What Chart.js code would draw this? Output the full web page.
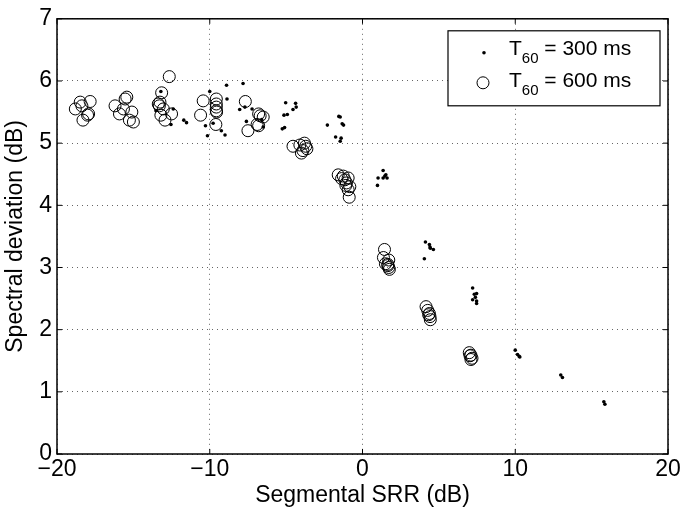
<!DOCTYPE html>
<html>
<head>
<meta charset="utf-8">
<script src="https://cdn.jsdelivr.net/npm/chart.js@4/dist/chart.umd.min.js"></script>
<style>
  html, body { margin: 0; padding: 0; background: #fff; }
</style>
</head>
<body>
<canvas id="c" width="685" height="512"></canvas>
<script>
// T60 = 300 ms (dots)
var t300X = [-13.2, -13.52, -12.39, -12.54, -11.7, -11.52, -10.0, -10.28, -10.15, -9.78, -9.24,
  -8.9, -8.87, -7.82, -8.04, -7.7, -7.23, -7.6, -9.0, -6.5, -6.6,
  -5.03, -4.38, -4.34, -4.55, -5.14, -4.92, -5.25, -5.1,
  -2.3, -1.55, -1.46, -1.33, -1.24, -1.76, -1.4, -1.46,
  1.35, 1.53, 1.46, 1.61, 1.02, 0.98, 1.35,
  4.12, 4.38, 4.44, 4.64, 4.05, 4.42,
  7.21, 7.32, 7.47, 7.21, 7.47, 7.47, 7.39,
  10.0, 10.15, 10.26, 10.3,
  12.98, 13.09,
  15.8, 15.87];
var t300Y = [5.83, 5.52, 5.55, 5.30, 5.37, 5.33, 5.83, 5.28, 5.12, 5.32, 5.20,
  5.93, 5.71, 5.96, 5.54, 5.58, 5.55, 5.35, 5.13, 5.26, 5.38,
  5.65, 5.64, 5.58, 5.54, 5.45, 5.46, 5.23, 5.25,
  5.29, 5.43, 5.42, 5.31, 5.29, 5.10, 5.08, 5.03,
  4.56, 4.49, 4.47, 4.44, 4.44, 4.32, 4.44,
  3.41, 3.37, 3.31, 3.29, 3.14, 3.33,
  2.67, 2.57, 2.58, 2.48, 2.46, 2.42, 2.52,
  1.67, 1.60, 1.57, 1.56,
  1.27, 1.23,
  0.84, 0.80];

// T60 = 600 ms (circles)
var t600X = [-18.8, -18.48, -18.37, -17.83, -17.93, -18.0, -18.3,
  -16.2, -15.91, -15.65, -15.54, -15.43, -15.1, -15.26, -15.0,
  -13.15, -13.26, -13.3, -13.04, -13.2, -12.93, -12.5, -12.65, -13.37,
  -10.43, -10.6, -9.57, -9.57, -9.57, -9.57, -9.55, -9.6,
  -7.67, -7.5, -6.8, -6.7, -6.5, -6.9, -6.8,
  -4.55, -4.1, -3.8, -3.72, -3.9, -4.0, -3.64,
  -1.59, -1.37, -1.15, -0.94, -1.05, -0.83, -0.94, -0.87, -1.26, -1.09,
  1.44, 1.37, 1.72, 1.66, 1.72, 1.76, 1.66, 1.5,
  4.16, 4.27, 4.38, 4.42, 4.44, 4.33,
  6.99, 7.1, 7.17, 7.04, 7.1];
var t600Y = [5.55, 5.66, 5.60, 5.67, 5.47, 5.45, 5.37,
  5.60, 5.47, 5.55, 5.71, 5.74, 5.50, 5.37, 5.34,
  5.81, 5.66, 5.60, 5.55, 5.45, 5.37, 5.47, 6.07, 5.63,
  5.68, 5.45, 5.71, 5.63, 5.58, 5.52, 5.50, 5.30,
  5.67, 5.20, 5.47, 5.44, 5.42, 5.30, 5.28,
  4.95, 4.97, 5.00, 4.95, 4.88, 4.84, 4.91,
  4.49, 4.43, 4.41, 4.44, 4.36, 4.30, 4.25, 4.13, 4.47, 4.32,
  3.29, 3.16, 3.12, 3.03, 3.00, 2.97, 3.05, 3.06,
  2.37, 2.31, 2.26, 2.21, 2.16, 2.24,
  1.63, 1.59, 1.54, 1.58, 1.52];

var xTicks = [-20, -10, 0, 10, 20];
var yTicks = [0, 1, 2, 3, 4, 5, 6, 7];
var legendLabels = ['300 ms', '600 ms'];

var FONT = '"Liberation Sans", Arial, Helvetica, sans-serif';

function pts(xs, ys) {
  return xs.map(function (x, i) { return { x: x, y: ys[i] }; });
}

// box, inward ticks and the MATLAB-like legend
var matlabFrame = {
  id: 'matlabFrame',
  afterDatasetsDraw: function (chart) {
    var ctx = chart.ctx;
    var a = chart.chartArea;
    var xs = chart.scales.x, ys = chart.scales.y;
    ctx.save();
    ctx.strokeStyle = '#000';
    ctx.lineWidth = 1.5;
    ctx.strokeRect(a.left, a.top, a.right - a.left, a.bottom - a.top);
    ctx.lineWidth = 1;
    var tl = 5;
    xTicks.forEach(function (v) {
      var px = xs.getPixelForValue(v);
      ctx.beginPath();
      ctx.moveTo(px, a.bottom); ctx.lineTo(px, a.bottom - tl);
      ctx.moveTo(px, a.top); ctx.lineTo(px, a.top + tl);
      ctx.stroke();
    });
    yTicks.forEach(function (v) {
      var py = ys.getPixelForValue(v);
      ctx.beginPath();
      ctx.moveTo(a.left, py); ctx.lineTo(a.left + tl, py);
      ctx.moveTo(a.right, py); ctx.lineTo(a.right - tl, py);
      ctx.stroke();
    });

    // legend
    var bx = a.right - 220, by = a.top + 12, bw = 212, bh = 75;
    ctx.fillStyle = '#fff';
    ctx.fillRect(bx, by, bw, bh);
    ctx.lineWidth = 1.2;
    ctx.strokeRect(bx, by, bw, bh);
    var rows = [by + 20, by + 52];
    ctx.fillStyle = '#000';
    ctx.beginPath();
    ctx.arc(bx + 36, rows[0] + 2, 1.8, 0, Math.PI * 2);
    ctx.fill();
    ctx.beginPath();
    ctx.lineWidth = 1;
    ctx.arc(bx + 35, rows[1], 6, 0, Math.PI * 2);
    ctx.stroke();
    ctx.textBaseline = 'middle';
    ctx.textAlign = 'left';
    rows.forEach(function (ry, i) {
      var tx = bx + 61;
      ctx.font = '21px ' + FONT;
      ctx.fillText('T', tx, ry - 2);
      var w = ctx.measureText('T').width;
      ctx.font = '15px ' + FONT;
      ctx.fillText('60', tx + w, ry + 8);
      var w2 = ctx.measureText('60').width;
      ctx.font = '21px ' + FONT;
      ctx.fillText(' = ' + legendLabels[i], tx + w + w2, ry - 2);
    });
    ctx.restore();
  }
};

new Chart(document.getElementById('c'), {
  type: 'scatter',
  data: {
    datasets: [{
      label: 'T60 = 300 ms',
      data: pts(t300X, t300Y),
      pointRadius: 1.8,
      pointBackgroundColor: '#000',
      pointBorderWidth: 0,
      pointStyle: 'circle'
    }, {
      label: 'T60 = 600 ms',
      data: pts(t600X, t600Y),
      pointRadius: 6,
      pointBackgroundColor: 'rgba(0,0,0,0)',
      pointBorderColor: '#000',
      pointBorderWidth: 1,
      pointStyle: 'circle'
    }]
  },
  options: {
    responsive: false,
    animation: false,
    events: [],
    layout: { padding: { top: 10, right: 17, left: 0, bottom: 0 } },
    plugins: {
      legend: { display: false },
      tooltip: { enabled: false }
    },
    scales: {
      x: {
        type: 'linear',
        min: -20, max: 20,
        afterFit: function (s) { s.height = 58; },
        afterBuildTicks: function (s) { s.ticks = xTicks.map(function (v) { return { value: v }; }); },
        ticks: {
          color: '#000',
          padding: 2,
          font: { family: FONT, size: 23 },
          callback: function (v) { return String(v).replace('-', '\u2212'); }
        },
        grid: { color: 'rgba(0,0,0,0.6)', lineWidth: 1, drawTicks: false },
        border: { display: false, dash: [1, 4] },
        title: {
          display: true,
          text: 'Segmental SRR (dB)',
          color: '#000',
          font: { family: FONT, size: 23 },
          padding: { top: 0, bottom: 3 }
        }
      },
      y: {
        type: 'linear',
        min: 0, max: 7,
        afterFit: function (s) { s.width = 57; },
        afterBuildTicks: function (s) { s.ticks = yTicks.map(function (v) { return { value: v }; }); },
        ticks: {
          color: '#000',
          padding: 5,
          font: { family: FONT, size: 23 }
        },
        grid: { color: 'rgba(0,0,0,0.6)', lineWidth: 1, drawTicks: false },
        border: { display: false, dash: [1, 4] },
        title: {
          display: true,
          text: 'Spectral deviation (dB)',
          color: '#000',
          font: { family: FONT, size: 23 },
          padding: { top: 2, bottom: 0 }
        }
      }
    }
  },
  plugins: [matlabFrame]
});
</script>
</body>
</html>
